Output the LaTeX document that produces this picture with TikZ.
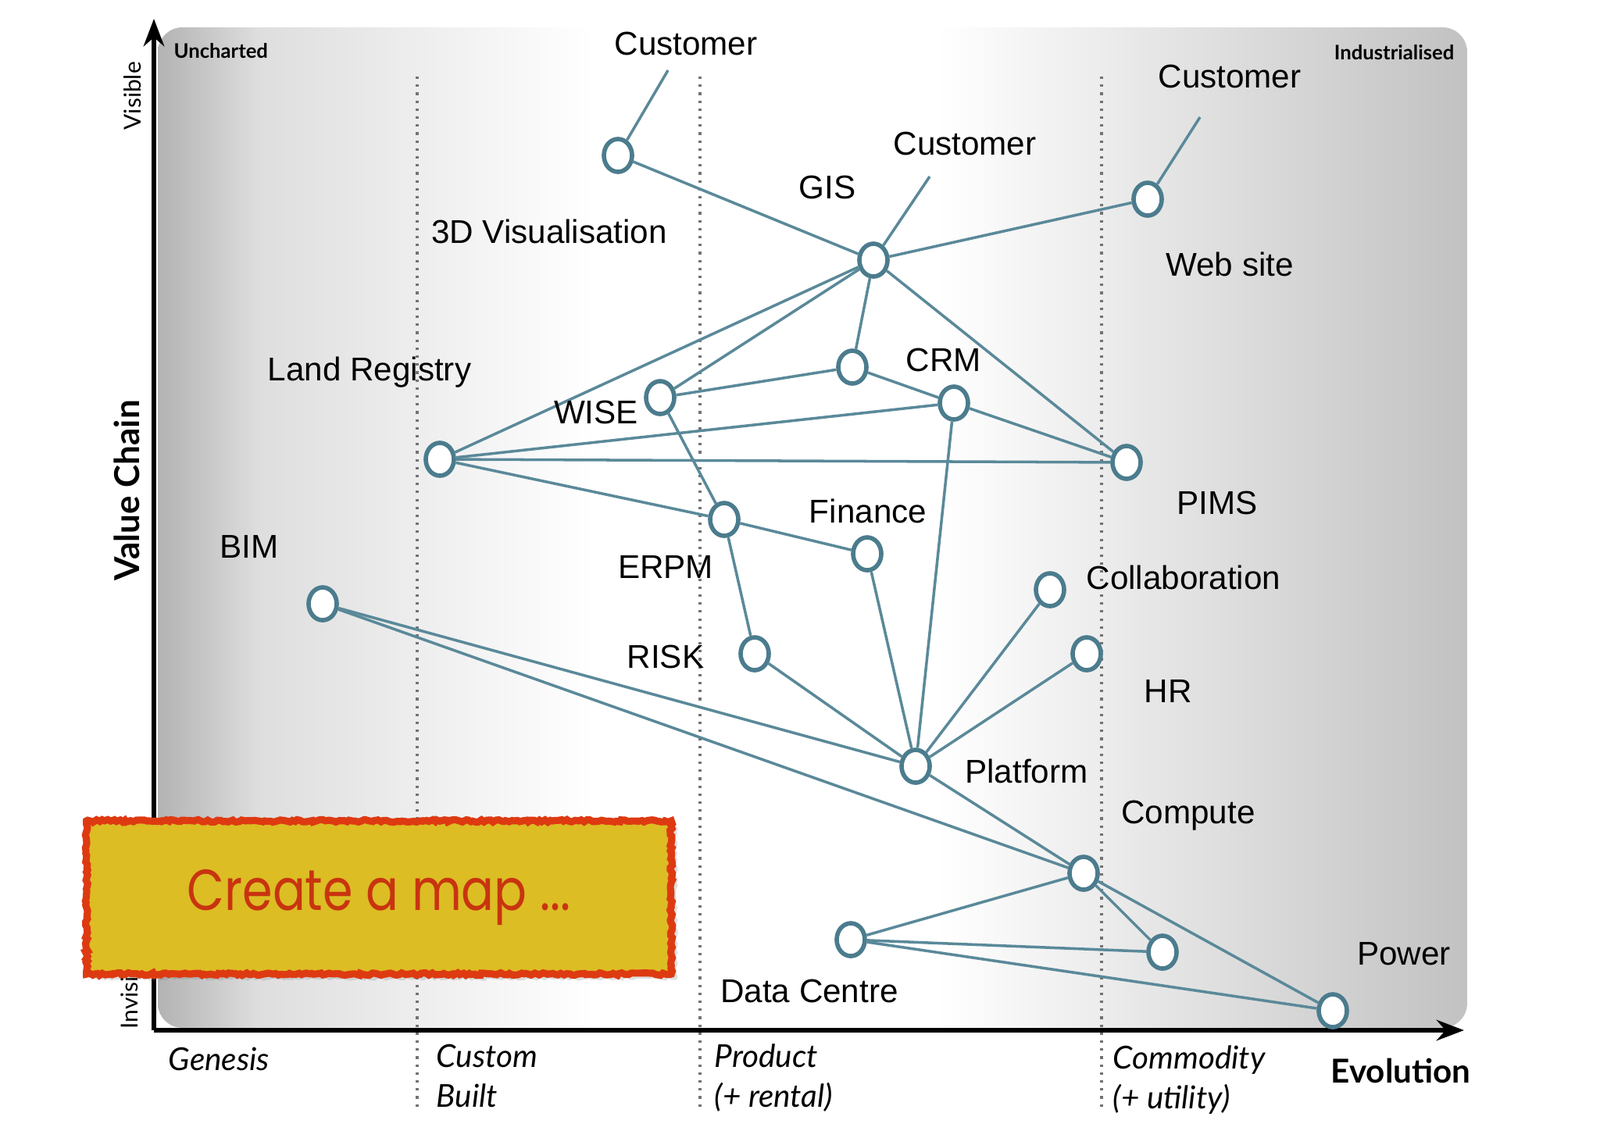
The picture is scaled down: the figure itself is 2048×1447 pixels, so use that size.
\documentclass[tikz,border=0pt]{standalone}
\usepackage{fontspec}
\setmainfont{Liberation Sans}
\newfontfamily\axisfont{Lato}
\newfontfamily\notefont{Poppins}
\usepackage{tikz}
\usetikzlibrary{arrows.meta, shapes.geometric, decorations.pathmorphing, shadows}
\definecolor{wmteal}{HTML}{5A8999}
\definecolor{wmring}{HTML}{4B7C8D}
\definecolor{wmyellow}{HTML}{DCBD24}
\definecolor{wmred}{HTML}{DE3A12}
\tikzset{
  wm comp/.style={
    ellipse, draw=wmring, line width=1.6pt, fill=white,
    minimum width=0.36cm, minimum height=0.42cm, inner sep=0pt
  },
  wm link/.style={
    draw=wmteal, line width=1pt
  },
  wm label/.style={
    font=\fontsize{12}{14}\selectfont, inner sep=0pt
  },
  wm stage/.style={
    font=\axisfont\itshape\fontsize{11.5}{14.5}\selectfont,
    align=left, anchor=north west, inner sep=0pt
  },
  wm axis/.style={
    line width=1.7pt, -{Stealth[length=10pt,width=7.5pt]}
  }
}

\begin{document}
\begin{tikzpicture}[x=0.01cm, y=-0.01cm,
  tag/.style={font=\axisfont\bfseries\fontsize{7.3}{9}\selectfont, inner sep=0pt},
  side/.style={font=\axisfont\fontsize{8.5}{10}\selectfont, inner sep=0pt, rotate=90, anchor=west},
  grid/.style={dotted, line width=0.9pt, black!55},
]
\useasboundingbox (0,0) rectangle (2048,1447);
\fill[white] (0,0) rectangle (2048,1447);

% ====== BACKGROUND: evolution shading ======
\begin{scope}
  \clip[rounded corners=9pt] (202,35) rectangle (1878,1316);
  \shade[left color=black!30, right color=black!13] (202,35) rectangle (331,1316);
  \shade[left color=black!13, right color=white] (330,35) rectangle (760,1316);
  \shade[left color=white, right color=black!24] (1200,35) rectangle (1878,1316);
\end{scope}
\node[tag, anchor=west] (uncharted) at (222,65) {Uncharted};
\node[tag, anchor=east] (industrial) at (1862,67) {Industrialised};

% -- stage boundaries --
\draw[grid] (534,98) -- (534,1417);
\draw[grid] (896,98) -- (896,1417);
\draw[grid] (1410,98) -- (1410,1417);

% ====== AXES ======
\coordinate (origin) at (197,1319);
\coordinate (ytip) at (197,24);
\coordinate (xtip) at (1874,1319);
\draw[wm axis] (origin) -- (ytip);
\draw[wm axis] (origin) -- (xtip);
\node[side] (visible) at (170,167) {Visible};
\node[side, anchor=center, font=\axisfont\bfseries\fontsize{12.5}{14}\selectfont] (chain) at (162,628) {Value Chain};
\node[side] (invisible) at (166,1318) {Invisible};

\node[wm stage] (genesis) at (215,1340) {Genesis};
\node[wm stage] (custom) at (558,1336) {Custom\\Built};
\node[wm stage] (product) at (914,1336) {Product\\(+ rental)};
\node[wm stage] (commodity) at (1424,1338) {Commodity\\(+ utility)};
\node[font=\axisfont\bfseries\fontsize{12}{14}\selectfont, inner sep=0pt] (evolution) at (1793,1371) {Evolution};

% ====== COMPONENTS ======
\node[wm comp] (vis) at (791,199) {};
\node[wm comp] (gis) at (1118,333) {};
\node[wm comp] (web) at (1469,255) {};
\node[wm comp] (land) at (563,588) {};
\node[wm comp] (wise) at (845,509) {};
\node[wm comp] (crm) at (1091,470) {};
\node[wm comp] (core) at (1221,516) {};
\node[wm comp] (pims) at (1442,592) {};
\node[wm comp] (erpm) at (927,665) {};
\node[wm comp] (finance) at (1110,709) {};
\node[wm comp] (collab) at (1344,755) {};
\node[wm comp] (hr) at (1391,837) {};
\node[wm comp] (risk) at (966,837) {};
\node[wm comp] (bim) at (413,773) {};
\node[wm comp] (platform) at (1172,981) {};
\node[wm comp] (compute) at (1387,1118) {};
\node[wm comp] (datacentre) at (1089,1203) {};
\node[wm comp] (util) at (1488,1219) {};
\node[wm comp] (power) at (1706,1294) {};

\coordinate (cust vis) at (855,90);
\coordinate (cust gis) at (1190,226);
\coordinate (cust web) at (1536,150);

% -- links --
\draw[wm link] (vis) -- (cust vis);
\draw[wm link] (gis) -- (cust gis);
\draw[wm link] (web) -- (cust web);
\draw[wm link] (vis) -- (gis);
\draw[wm link] (gis) -- (web);
\draw[wm link] (gis) -- (land);
\draw[wm link] (gis) -- (wise);
\draw[wm link] (gis) -- (crm);
\draw[wm link] (gis) -- (pims);
\draw[wm link] (wise) -- (crm);
\draw[wm link] (crm) -- (core);
\draw[wm link] (core) -- (pims);
\draw[wm link] (core) -- (land);
\draw[wm link] (land) -- (pims);
\draw[wm link] (land) -- (erpm);
\draw[wm link] (wise) -- (erpm);
\draw[wm link] (erpm) -- (finance);
\draw[wm link] (erpm) -- (risk);
\draw[wm link] (finance) -- (platform);
\draw[wm link] (core) -- (platform);
\draw[wm link] (collab) -- (platform);
\draw[wm link] (hr) -- (platform);
\draw[wm link] (risk) -- (platform);
\draw[wm link] (bim) -- (platform);
\draw[wm link] (bim) -- (compute);
\draw[wm link] (platform) -- (compute);
\draw[wm link] (compute) -- (datacentre);
\draw[wm link] (compute) -- (util);
\draw[wm link] (compute) -- (power);
\draw[wm link] (datacentre) -- (util);
\draw[wm link] (datacentre) -- (power);

% -- labels --
\node[wm label] (l cust vis) at (878,56) {Customer};
\node[wm label] (l cust web) at (1574,98) {Customer};
\node[wm label] (l cust gis) at (1235,184) {Customer};
\node[wm label] (l gis) at (1059,240) {GIS};
\node[wm label] (l vis) at (703,296) {3D Visualisation};
\node[wm label] (l web) at (1574,338) {Web site};
\node[wm label] (l land) at (473,477) {Land Registry};
\node[wm label] (l crm) at (1208,461) {CRM};
\node[wm label] (l wise) at (763,528) {WISE};
\node[wm label] (l pims) at (1558,644) {PIMS};
\node[wm label] (l finance) at (1111,654) {Finance};
\node[wm label] (l bim) at (319,700) {BIM};
\node[wm label] (l erpm) at (852,726) {ERPM};
\node[wm label] (l collab) at (1515,739) {Collaboration};
\node[wm label] (l risk) at (852,841) {RISK};
\node[wm label] (l hr) at (1495,885) {HR};
\node[wm label] (l platform) at (1314,987) {Platform};
\node[wm label] (l compute) at (1521,1044) {Compute};
\node[wm label] (l power) at (1797,1221) {Power};
\node[wm label] (l datacentre) at (1036,1269) {Data Centre};

% ====== NOTE ======
\node[draw=wmred, fill=wmyellow, line width=2.6pt,
  decorate, decoration={random steps, segment length=1pt, amplitude=0.45pt},
  drop shadow={opacity=0.25, shadow xshift=2pt, shadow yshift=-2pt},
  minimum width=7.48cm, minimum height=1.96cm,
  font=\notefont\fontsize{21}{24}\selectfont, text=wmred!90!black] (note) at (485,1149)
  {\scalebox{0.84}[1]{Create a map ...}};

\end{tikzpicture}
\end{document}
